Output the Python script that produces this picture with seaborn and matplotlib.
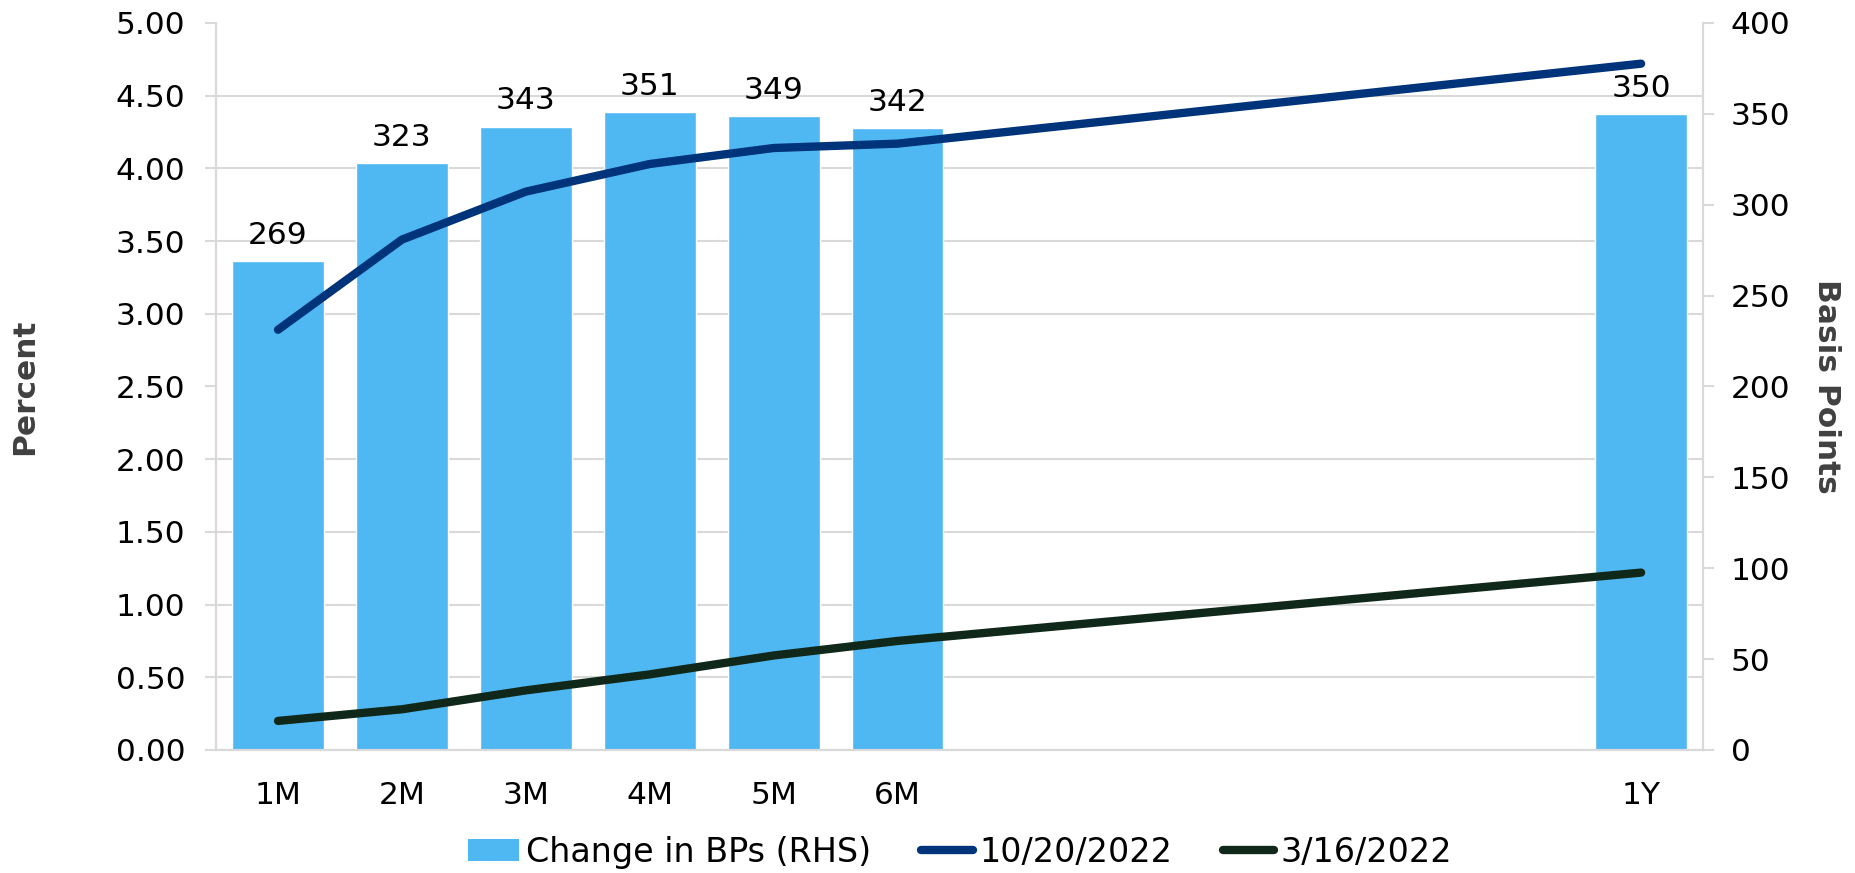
import numpy as np
import pandas as pd
import matplotlib
matplotlib.use("Agg")
import matplotlib.pyplot as plt
import seaborn as sns
from matplotlib.patches import Patch
from matplotlib.lines import Line2D

# Tenors (in months) and their axis labels
months = [1, 2, 3, 4, 5, 6, 12]
tenor_labels = ["1M", "2M", "3M", "4M", "5M", "6M", "1Y"]

# Yields in percent on two dates
yield_oct = [2.89, 3.51, 3.84, 4.03, 4.14, 4.17, 4.72]
yield_mar = [0.20, 0.28, 0.41, 0.52, 0.65, 0.75, 1.22]

# Change between the two dates, in basis points
change_bps = [269, 323, 343, 351, 349, 342, 350]

BAR_COLOR = "#4FB8F2"
OCT_COLOR = "#00347A"
MAR_COLOR = "#10281A"
GRID_COLOR = "#D9D9D9"
TEXT_COLOR = "#000000"
LABEL_COLOR = "#404040"
FS = 22.5
LW = 6

sns.set_theme(style="white")
plt.rcParams["font.family"] = ["DejaVu Sans"]
plt.rcParams["text.color"] = TEXT_COLOR

df = pd.DataFrame({"month": months, "bps": change_bps,
                   "oct": yield_oct, "mar": yield_mar})

fig = plt.figure(figsize=(18.56, 8.73), dpi=100)
ax = fig.add_axes([0.1164, 0.1409, 0.8012, 0.8328])
ax2 = ax.twinx()

# Bars: basis-point change on the right-hand scale
sns.barplot(data=df, x="month", y="bps", native_scale=True, width=0.74,
            color=BAR_COLOR, saturation=1, ax=ax, zorder=2)
ax.set_ylim(0, 400)
ax.set_xlim(0.5, 12.5)
ax.bar_label(ax.containers[0], labels=[str(v) for v in change_bps],
             padding=8, fontsize=FS, color=TEXT_COLOR)

# Horizontal grid lines aligned with the percent ticks (every 0.50 = 40 bp)
ax.set_yticks(np.arange(0, 401, 40), minor=True)
ax.grid(which="minor", axis="y", color=GRID_COLOR, linewidth=1.5, zorder=0)
ax.grid(which="major", visible=False)
ax.set_axisbelow(True)

ax.yaxis.tick_right()
ax.yaxis.set_label_position("right")
ax.set_yticks(np.arange(0, 401, 50))
ax.set_yticklabels([f"{v:d}" for v in range(0, 401, 50)])
ax.tick_params(axis="y", which="major", right=True, left=False,
               labelright=True, labelleft=False, length=8, width=1.5,
               color=GRID_COLOR, pad=12, labelsize=FS,
               labelcolor=TEXT_COLOR, direction="out")
ax.tick_params(axis="y", which="minor", length=0, left=False, right=False)
ax.set_ylabel("Basis Points", rotation=-90, fontsize=FS, fontweight="bold",
              color=LABEL_COLOR, labelpad=36)

ax.set_xticks(months)
ax.set_xticklabels(tenor_labels)
ax.tick_params(axis="x", length=0, pad=22, labelsize=FS, labelcolor=TEXT_COLOR)
ax.set_xlabel("")

# Lines: yields on the left-hand percent scale
sns.lineplot(data=df, x="month", y="oct", color=OCT_COLOR, linewidth=LW,
             solid_capstyle="round", ax=ax2, zorder=3)
sns.lineplot(data=df, x="month", y="mar", color=MAR_COLOR, linewidth=LW,
             solid_capstyle="round", ax=ax2, zorder=3)
ax2.set_ylim(0, 5)
ax2.set_xlim(0.5, 12.5)
ax2.yaxis.tick_left()
ax2.yaxis.set_label_position("left")
ax2.set_yticks(np.arange(0, 5.01, 0.5))
ax2.set_yticklabels([f"{v:.2f}" for v in np.arange(0, 5.01, 0.5)])
ax2.tick_params(axis="y", left=True, right=False, labelleft=True,
                labelright=False, length=8, width=1.5, color=GRID_COLOR,
                pad=14, labelsize=FS, labelcolor=TEXT_COLOR, direction="out")
ax2.set_ylabel("Percent", fontsize=FS, fontweight="bold", color=LABEL_COLOR,
               labelpad=55)
ax2.grid(False)

for a in (ax, ax2):
    a.spines["top"].set_visible(False)
    for side in ("left", "right", "bottom"):
        a.spines[side].set_color(GRID_COLOR)
        a.spines[side].set_linewidth(1.5)

handles = [
    Patch(facecolor=BAR_COLOR, edgecolor="none", label="Change in BPs (RHS)"),
    Line2D([0], [0], color=OCT_COLOR, linewidth=LW, solid_capstyle="round",
           label="10/20/2022"),
    Line2D([0], [0], color=MAR_COLOR, linewidth=LW, solid_capstyle="round",
           label="3/16/2022"),
]
leg = fig.legend(handles=handles, loc="center left",
                 bbox_to_anchor=(0.252, 0.024), ncol=3, frameon=False,
                 fontsize=24, handlelength=1.55, handletextpad=0.2,
                 columnspacing=1.5, handleheight=0.62, borderpad=0,
                 borderaxespad=0)
for t in leg.get_texts():
    t.set_color(TEXT_COLOR)

fig.savefig("out.png", dpi=100)
